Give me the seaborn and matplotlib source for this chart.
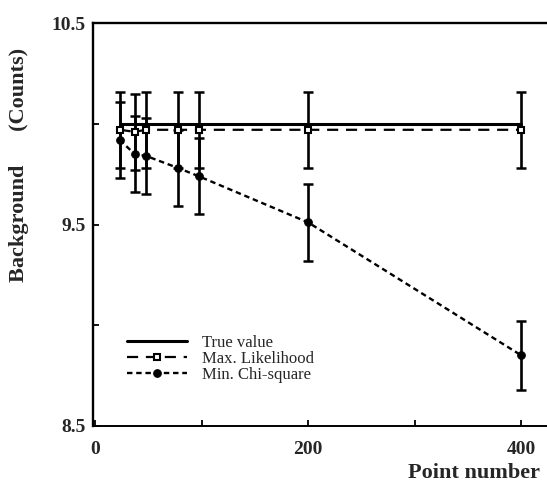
import numpy as np
import pandas as pd
import matplotlib
matplotlib.use("Agg")
import matplotlib.pyplot as plt
import seaborn as sns

# ---- data ----
point_number = [23, 37, 48, 78, 97, 200, 400]
true_value = [10.0, 10.0, 10.0, 10.0, 10.0, 10.0, 10.0]
max_likelihood = [9.97, 9.96, 9.97, 9.97, 9.97, 9.97, 9.97]
max_likelihood_err = [0.19, 0.19, 0.19, 0.19, 0.19, 0.19, 0.19]
min_chi_square = [9.92, 9.85, 9.84, 9.78, 9.74, 9.51, 8.85]
min_chi_square_err = [0.19, 0.19, 0.19, 0.19, 0.19, 0.19, 0.17]
x_ticks = [0, 200, 400]
x_minor = [100, 300]
y_ticks = [8.5, 9.5, 10.5]
y_minor = [9.0, 10.0]

df = pd.DataFrame({
    "n": point_number,
    "true": true_value,
    "ml": max_likelihood,
    "ml_err": max_likelihood_err,
    "chi": min_chi_square,
    "chi_err": min_chi_square_err,
})

sns.set_style("ticks")
plt.rcParams["font.family"] = ["Liberation Serif", "DejaVu Serif"]

fig = plt.figure(figsize=(5.47, 4.84), dpi=100)
ax = fig.add_axes([93 / 547, 1 - 426 / 484, 454 / 547, 403 / 484])

# error bars
ax.errorbar(df["n"], df["ml"], yerr=df["ml_err"], fmt="none", ecolor="black",
            elinewidth=1.9, capsize=3.4, capthick=1.8, zorder=2)
ax.errorbar(df["n"], df["chi"], yerr=df["chi_err"], fmt="none", ecolor="black",
            elinewidth=1.9, capsize=3.4, capthick=1.8, zorder=2)

# lines
sns.lineplot(data=df, x="n", y="true", ax=ax, color="black", linewidth=2.2,
             label="True value", zorder=3)
sns.lineplot(data=df, x="n", y="ml", ax=ax, color="black", linewidth=1.6,
             linestyle=(0, (5, 3.5)), marker="s", markersize=5,
             markerfacecolor="white", markeredgecolor="black",
             markeredgewidth=1.5, label="Max. Likelihood", zorder=4)
sns.lineplot(data=df, x="n", y="chi", ax=ax, color="black", linewidth=1.7,
             linestyle=(0, (2.3, 1.6)), marker="o", markersize=5.5,
             markerfacecolor="black", markeredgecolor="black",
             label="Min. Chi-square", zorder=4)

ax.set_xlim(-2, 424)
ax.set_ylim(8.5, 10.5)

ax.set_xticks(x_ticks)
ax.set_xticks(x_minor, minor=True)
ax.set_yticks(y_ticks)
ax.set_yticks(y_minor, minor=True)
ax.set_xticklabels([str(v) for v in x_ticks])
ax.set_yticklabels([f"{v:.1f}" for v in y_ticks])

ax.tick_params(axis="both", which="both", direction="in", color="black",
               width=1.3)
ax.tick_params(axis="both", which="major", length=4)
ax.tick_params(axis="both", which="minor", length=4)
ax.tick_params(axis="y", which="major", pad=5, labelsize=14)
ax.tick_params(axis="x", which="major", pad=11, labelsize=14)
for lab in ax.get_xticklabels() + ax.get_yticklabels():
    lab.set_fontweight("bold")

for side in ["left", "bottom", "top"]:
    ax.spines[side].set_visible(True)
    ax.spines[side].set_color("black")
ax.spines["left"].set_linewidth(1.7)
ax.spines["bottom"].set_linewidth(1.4)
ax.spines["top"].set_linewidth(1.7)
ax.spines["right"].set_visible(False)

ax.set_xlabel("Point number", fontsize=16, fontweight="bold", ha="right")
ax.xaxis.set_label_coords(0.985, -0.092)
ax.set_ylabel("Background      (Counts)", fontsize=16, fontweight="bold")
ax.yaxis.set_label_coords(-0.141, 0.648)

leg = ax.legend(loc="upper left", bbox_to_anchor=(0.075, 0.225),
                frameon=False, fontsize=12, handlelength=3.6,
                handletextpad=0.9, labelspacing=0.0, borderpad=0,
                borderaxespad=0, numpoints=1)

fig.savefig("out.png", dpi=100, facecolor="white")
